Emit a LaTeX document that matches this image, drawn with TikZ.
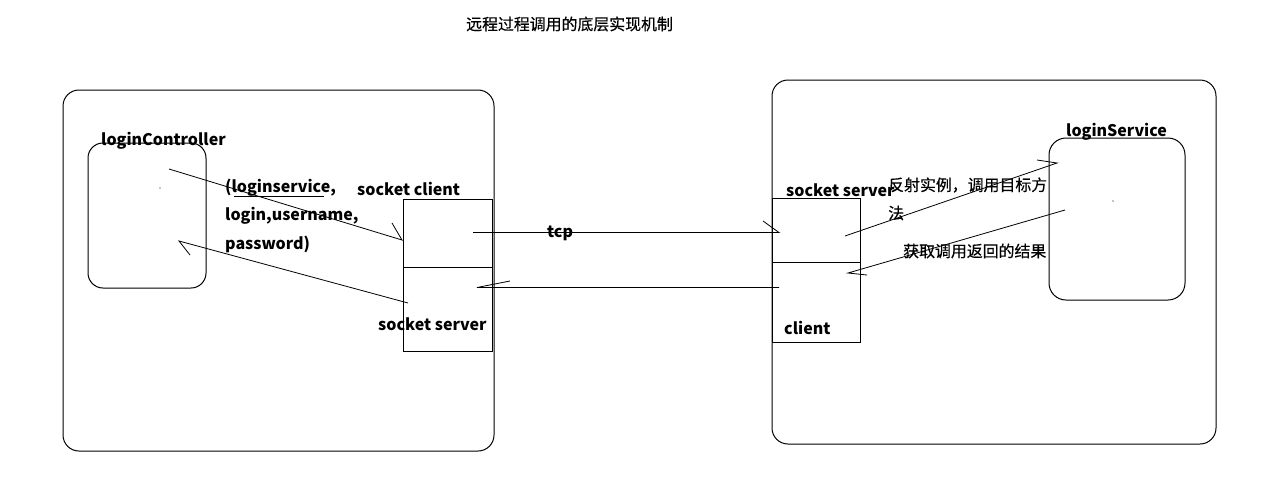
\documentclass[tikz,border=0pt]{standalone}
\usepackage{fontspec}
\setmainfont{Noto Sans CJK SC}
\newfontfamily\zhfont[FakeBold=0.4]{Noto Sans CJK SC}
\begin{document}
\begin{tikzpicture}[x=1pt,y=-1pt,
  box/.style={draw, line width=1pt, outer sep=0pt, inner sep=0pt},
  rbox/.style={box, rounded corners=16pt},
  lbl/.style={font=\fontsize{16}{19}\selectfont\bfseries, inner sep=0pt, anchor=west},
  zh/.style={font=\zhfont\fontsize{15.9}{19}\selectfont, inner sep=0pt, anchor=west},
  ln/.style={line width=0.8pt}]
\useasboundingbox (0,0) rectangle (1263,491);
\fill[white] (0,0) rectangle (1263,491);
% title
\node[zh] (title) at (466,24) {远程过程调用的底层实现机制};
% left side
\node[rbox, minimum width=431pt, minimum height=361pt] (left) at (278.5,270.5) {};
\node[rbox, rounded corners=15pt, minimum width=118pt, minimum height=145pt] (lc) at (147,215.5) {};
\node[box, minimum width=89pt, minimum height=68pt] (sc) at (447.5,233) {};
\node[box, minimum width=89pt, minimum height=84pt] (ss) at (447.5,309) {};
\node[lbl] (lcl) at (101,141) {loginController};
\node[lbl] (scl) at (357,189) {socket client};
\node[lbl] (ssl) at (378,324) {socket server};
\node[lbl] (p1) at (225,188) {(loginservice,};
\node[lbl] (p2) at (225,216) {login,username,};
\node[lbl] (p3) at (225,244) {password)};
\coordinate (u1) at (234,196.5); \coordinate (u2) at (324,196.5);
\draw[ln] (u1) -- (u2);
\fill (160,188) circle (0.7pt);
% left connectors
\coordinate (a1) at (169,169); \coordinate (a2) at (402,240); \coordinate (a2b) at (392,223);
\draw[ln] (a1) -- (a2) -- (a2b);
\coordinate (b1) at (408,303); \coordinate (b2) at (179,241); \coordinate (b2b) at (190,255);
\draw[ln] (b1) -- (b2) -- (b2b);
% tcp
\coordinate (t1) at (473,232.5); \coordinate (t2) at (779,232.5); \coordinate (t2b) at (763,221);
\draw[ln] (t1) -- (t2) -- (t2b);
\node[lbl] (tcp) at (547,233) {tcp};
\coordinate (r1) at (779,287.5); \coordinate (r2) at (477,287.5); \coordinate (r2b) at (510,281);
\draw[ln] (r1) -- (r2) -- (r2b);
% right side
\node[rbox, minimum width=444pt, minimum height=364pt] (right) at (994,262) {};
\node[box, minimum width=88pt, minimum height=64pt] (rs) at (816,230) {};
\node[box, minimum width=88pt, minimum height=80pt] (rc) at (816,302) {};
\node[rbox, rounded corners=17pt, minimum width=136pt, minimum height=162pt] (ls) at (1117,219) {};
\node[lbl] (rsl) at (786,190) {socket server};
\node[lbl] (rcl) at (784,328) {client};
\node[lbl] (lsl) at (1066,132) {loginService};
\fill (1113,201) circle (0.7pt);
\node[zh] (z1) at (888,185) {反射实例，调用目标方};
\node[zh] (z2) at (888,213) {法};
\node[zh] (z3) at (903,251) {获取调用返回的结果};
\coordinate (c1) at (845,236); \coordinate (c2) at (1057,163); \coordinate (c2b) at (1037,160);
\draw[ln] (c1) -- (c2) -- (c2b);
\coordinate (d1) at (1065,210); \coordinate (d2) at (848,273); \coordinate (d2b) at (867,275);
\draw[ln] (d1) -- (d2) -- (d2b);
\end{tikzpicture}
\end{document}
